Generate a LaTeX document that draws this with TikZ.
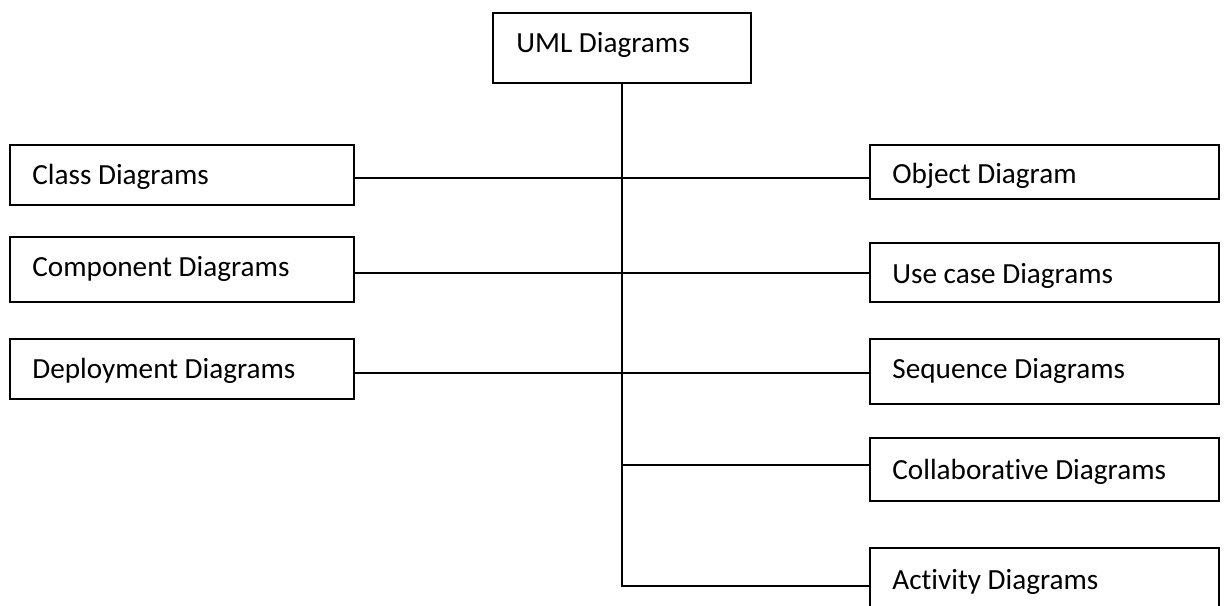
\documentclass[tikz,border=0pt]{standalone}
\usepackage{fontspec}
\setmainfont{Carlito}[Ligatures=NoCommon]
\begin{document}
\begin{tikzpicture}[x=0.5pt,y=-0.5pt,
  box/.style={draw=black,line width=1pt,inner sep=0pt,outer sep=0pt,anchor=north west,fill=white},
  lbl/.style={anchor=base west,inner sep=0pt,font=\fontsize{14.6pt}{17pt}\selectfont,text=black},
  conn/.style={draw=black,line width=0.8pt}]
\useasboundingbox (0,0) rectangle (1225,605);
\clip (0,0) rectangle (1225,605);
% junction coordinates on the spine
\coordinate (j1) at (622,178);
\coordinate (j2) at (622,273);
\coordinate (j3) at (622,373);
\coordinate (j4) at (622,465);
\coordinate (j5) at (622,586);
% boxes
\node[box,minimum width=129pt,minimum height=35pt] (top) at (493,13) {};
\node[box,minimum width=172pt,minimum height=30pt] (cls) at (10,145) {};
\node[box,minimum width=172pt,minimum height=32.5pt] (cmp) at (10,237) {};
\node[box,minimum width=172pt,minimum height=30pt] (dep) at (10,339) {};
\node[box,minimum width=174.5pt,minimum height=27pt] (obj) at (870,145) {};
\node[box,minimum width=174.5pt,minimum height=29.5pt] (use) at (870,243) {};
\node[box,minimum width=174.5pt,minimum height=32.5pt] (seq) at (870,339) {};
\node[box,minimum width=174.5pt,minimum height=31.5pt] (col) at (870,438) {};
\node[box,minimum width=174.5pt,minimum height=38.5pt] (act) at (870,548) {};
% texts
\node[lbl] (ttop) at ([shift={(23,39)}]top.north west) {UML Diagrams};
\node[lbl] (tcls) at ([shift={(22,39)}]cls.north west) {Class Diagrams};
\node[lbl] (tcmp) at ([shift={(22,39)}]cmp.north west) {Component Diagrams};
\node[lbl] (tdep) at ([shift={(22,39)}]dep.north west) {Deployment Diagrams};
\node[lbl] (tobj) at ([shift={(22,38)}]obj.north west) {Object Diagram};
\node[lbl] (tuse) at ([shift={(22,40)}]use.north west) {Use case Diagrams};
\node[lbl] (tseq) at ([shift={(22,39)}]seq.north west) {Sequence Diagrams};
\node[lbl] (tcol) at ([shift={(22,41)}]col.north west) {Collaborative Diagrams};
\node[lbl] (tact) at ([shift={(22,41)}]act.north west) {Activity Diagrams};
% connectors
\draw[conn] (top.south) -- (j5) -- (act.west |- j5);
\draw[conn] (cls.east |- j1) -- (obj.west |- j1);
\draw[conn] (cmp.east |- j2) -- (use.west |- j2);
\draw[conn] (dep.east |- j3) -- (seq.west |- j3);
\draw[conn] (j4) -- (col.west |- j4);
\end{tikzpicture}
\end{document}
